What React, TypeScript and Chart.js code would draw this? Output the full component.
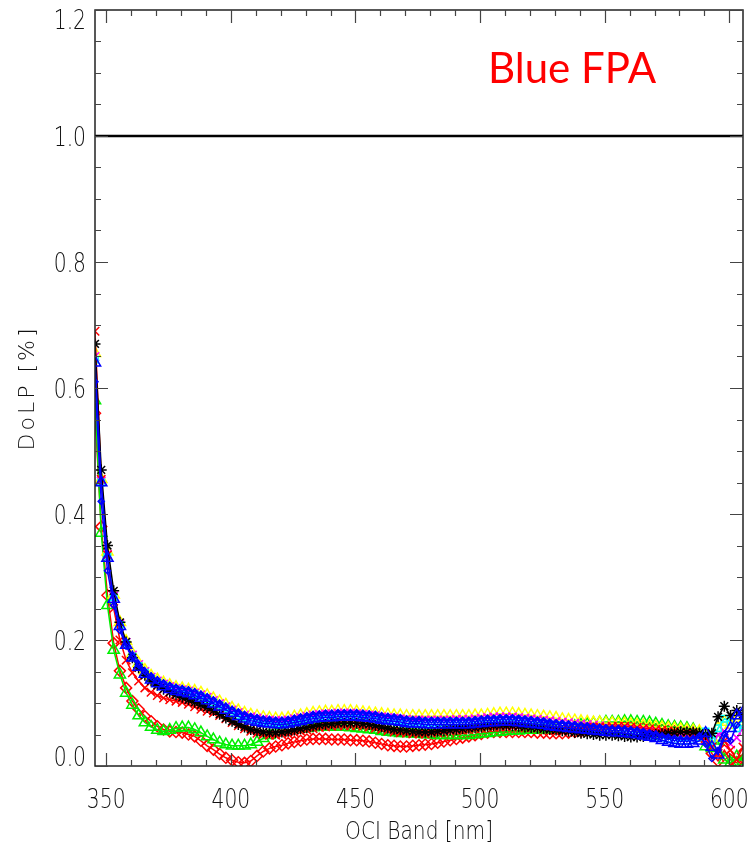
import { useEffect, useRef } from "react";
import { Chart, registerables } from "chart.js";

Chart.register(...registerables);

// OCI band centre wavelengths [nm]
const wavelengths = [
  345.5, 348, 350.5, 353, 355.5, 358, 360.5, 363, 365.5, 368,
  370.5, 373, 375.5, 378, 380.5, 383, 385.5, 388, 390.5, 393,
  395.5, 398, 400.5, 403, 405.5, 408, 410.5, 413, 415.5, 418,
  420.5, 423, 425.5, 428, 430.5, 433, 435.5, 438, 440.5, 443,
  445.5, 448, 450.5, 453, 455.5, 458, 460.5, 463, 465.5, 468,
  470.5, 473, 475.5, 478, 480.5, 483, 485.5, 488, 490.5, 493,
  495.5, 498, 500.5, 503, 505.5, 508, 510.5, 513, 515.5, 518,
  520.5, 523, 525.5, 528, 530.5, 533, 535.5, 538, 540.5, 543,
  545.5, 548, 550.5, 553, 555.5, 558, 560.5, 563, 565.5, 568,
  570.5, 573, 575.5, 578, 580.5, 583, 585.5, 588, 590.5, 593,
  595.5, 598, 600.5, 603, 605.5,
];

const redDiamonds = [
  0.560, 0.380, 0.271, 0.195, 0.151, 0.124, 0.103, 0.090, 0.079, 0.071,
  0.063, 0.058, 0.055, 0.054, 0.053, 0.050, 0.047, 0.040, 0.032, 0.026,
  0.019, 0.013, 0.009, 0.006, 0.005, 0.008, 0.016, 0.023, 0.028, 0.031,
  0.033, 0.036, 0.038, 0.040, 0.042, 0.043, 0.043, 0.043, 0.042, 0.042,
  0.042, 0.041, 0.041, 0.040, 0.039, 0.037, 0.035, 0.033, 0.032, 0.031,
  0.031, 0.032, 0.033, 0.034, 0.035, 0.037, 0.039, 0.041, 0.043, 0.045,
  0.047, 0.049, 0.051, 0.053, 0.054, 0.054, 0.054, 0.054, 0.054, 0.054,
  0.054, 0.053, 0.053, 0.052, 0.052, 0.052, 0.053, 0.054, 0.055, 0.056,
  0.057, 0.058, 0.059, 0.060, 0.061, 0.062, 0.062, 0.061, 0.060, 0.059,
  0.058, 0.057, 0.056, 0.055, 0.054, 0.053, 0.052, 0.051, 0.040, 0.020,
  0.008, 0.025, 0.010, 0.005, 0.020,
];

const greenTriangles = [
  0.580, 0.370, 0.255, 0.184, 0.145, 0.116, 0.097, 0.080, 0.069, 0.062,
  0.057, 0.055, 0.057, 0.060, 0.061, 0.061, 0.058, 0.053, 0.047, 0.042,
  0.037, 0.034, 0.032, 0.032, 0.032, 0.034, 0.038, 0.044, 0.049, 0.053,
  0.055, 0.057, 0.058, 0.059, 0.060, 0.061, 0.062, 0.062, 0.062, 0.062,
  0.062, 0.061, 0.060, 0.059, 0.058, 0.057, 0.055, 0.054, 0.053, 0.052,
  0.052, 0.051, 0.051, 0.050, 0.050, 0.049, 0.049, 0.049, 0.049, 0.049,
  0.049, 0.050, 0.051, 0.052, 0.053, 0.054, 0.055, 0.056, 0.056, 0.057,
  0.057, 0.058, 0.058, 0.059, 0.060, 0.061, 0.062, 0.063, 0.065, 0.066,
  0.068, 0.069, 0.070, 0.070, 0.070, 0.071, 0.071, 0.070, 0.070, 0.069,
  0.067, 0.065, 0.063, 0.062, 0.061, 0.060, 0.058, 0.052, 0.031, 0.028,
  0.040, 0.010, 0.005, 0.015, 0.008,
];

const yellowSeries = [
  0.655, 0.455, 0.340, 0.272, 0.228, 0.198, 0.178, 0.163, 0.152, 0.143,
  0.137, 0.132, 0.128, 0.125, 0.123, 0.121, 0.119, 0.116, 0.112, 0.107,
  0.102, 0.097, 0.092, 0.088, 0.084, 0.081, 0.079, 0.077, 0.076, 0.075,
  0.075, 0.076, 0.078, 0.080, 0.082, 0.084, 0.085, 0.086, 0.086, 0.087,
  0.087, 0.087, 0.086, 0.085, 0.084, 0.083, 0.082, 0.081, 0.080, 0.080,
  0.079, 0.079, 0.079, 0.079, 0.079, 0.079, 0.079, 0.079, 0.079, 0.079,
  0.079, 0.080, 0.080, 0.081, 0.082, 0.083, 0.083, 0.083, 0.082, 0.081,
  0.080, 0.079, 0.078, 0.077, 0.076, 0.074, 0.073, 0.072, 0.071, 0.070,
  0.069, 0.069, 0.068, 0.068, 0.067, 0.067, 0.066, 0.065, 0.064, 0.063,
  0.062, 0.061, 0.060, 0.059, 0.058, 0.057, 0.056, 0.055, 0.050, 0.045,
  0.060, 0.070, 0.065, 0.075, 0.070,
];

const magentaCross = [
  0.650, 0.452, 0.336, 0.270, 0.226, 0.196, 0.176, 0.161, 0.150, 0.141,
  0.135, 0.130, 0.126, 0.123, 0.121, 0.119, 0.116, 0.113, 0.109, 0.104,
  0.099, 0.094, 0.089, 0.085, 0.081, 0.078, 0.076, 0.074, 0.073, 0.072,
  0.072, 0.073, 0.075, 0.077, 0.079, 0.081, 0.082, 0.083, 0.083, 0.084,
  0.084, 0.084, 0.083, 0.082, 0.081, 0.080, 0.078, 0.077, 0.076, 0.075,
  0.074, 0.073, 0.073, 0.073, 0.073, 0.073, 0.073, 0.073, 0.074, 0.074,
  0.074, 0.075, 0.076, 0.077, 0.078, 0.078, 0.078, 0.078, 0.077, 0.076,
  0.075, 0.074, 0.073, 0.072, 0.071, 0.070, 0.069, 0.068, 0.067, 0.066,
  0.065, 0.064, 0.063, 0.062, 0.062, 0.061, 0.060, 0.059, 0.058, 0.057,
  0.055, 0.053, 0.051, 0.049, 0.047, 0.046, 0.046, 0.048, 0.040, 0.030,
  0.050, 0.055, 0.035, 0.045, 0.060,
];

const cyanSquares = [
  0.645, 0.450, 0.333, 0.268, 0.224, 0.194, 0.174, 0.159, 0.148, 0.139,
  0.133, 0.128, 0.124, 0.121, 0.119, 0.117, 0.114, 0.110, 0.106, 0.101,
  0.096, 0.091, 0.086, 0.081, 0.077, 0.074, 0.072, 0.070, 0.069, 0.068,
  0.068, 0.069, 0.071, 0.073, 0.075, 0.077, 0.078, 0.079, 0.079, 0.080,
  0.080, 0.080, 0.080, 0.079, 0.078, 0.077, 0.075, 0.074, 0.073, 0.072,
  0.071, 0.070, 0.070, 0.069, 0.069, 0.069, 0.069, 0.069, 0.069, 0.069,
  0.069, 0.070, 0.071, 0.072, 0.072, 0.073, 0.073, 0.073, 0.072, 0.071,
  0.070, 0.069, 0.068, 0.066, 0.065, 0.064, 0.063, 0.062, 0.061, 0.060,
  0.059, 0.058, 0.057, 0.056, 0.056, 0.055, 0.054, 0.053, 0.051, 0.049,
  0.047, 0.045, 0.043, 0.041, 0.040, 0.040, 0.041, 0.045, 0.055, 0.040,
  0.060, 0.075, 0.070, 0.060, 0.065,
];

const redCross = [
  0.690, 0.455, 0.335, 0.250, 0.200, 0.168, 0.148, 0.135, 0.124, 0.117,
  0.112, 0.108, 0.105, 0.103, 0.101, 0.098, 0.094, 0.090, 0.087, 0.084,
  0.080, 0.075, 0.069, 0.064, 0.059, 0.055, 0.052, 0.050, 0.049, 0.049,
  0.050, 0.051, 0.053, 0.055, 0.057, 0.059, 0.061, 0.062, 0.063, 0.064,
  0.064, 0.064, 0.064, 0.063, 0.062, 0.060, 0.058, 0.056, 0.054, 0.053,
  0.052, 0.051, 0.051, 0.051, 0.052, 0.053, 0.054, 0.055, 0.056, 0.057,
  0.058, 0.059, 0.060, 0.061, 0.061, 0.062, 0.062, 0.062, 0.062, 0.061,
  0.061, 0.060, 0.060, 0.059, 0.059, 0.059, 0.059, 0.060, 0.060, 0.061,
  0.061, 0.062, 0.062, 0.063, 0.063, 0.063, 0.062, 0.061, 0.060, 0.059,
  0.058, 0.057, 0.056, 0.055, 0.054, 0.053, 0.052, 0.050, 0.045, 0.030,
  0.020, 0.040, 0.025, 0.010, 0.030,
];

const blackStars = [
  0.670, 0.470, 0.350, 0.278, 0.228, 0.197, 0.172, 0.156, 0.144, 0.135,
  0.128, 0.122, 0.117, 0.113, 0.109, 0.105, 0.101, 0.097, 0.093, 0.088,
  0.082, 0.076, 0.071, 0.066, 0.062, 0.058, 0.056, 0.054, 0.053, 0.053,
  0.054, 0.055, 0.057, 0.059, 0.061, 0.063, 0.065, 0.066, 0.067, 0.068,
  0.068, 0.068, 0.068, 0.067, 0.066, 0.064, 0.062, 0.060, 0.058, 0.057,
  0.056, 0.055, 0.054, 0.054, 0.054, 0.055, 0.056, 0.057, 0.058, 0.059,
  0.060, 0.061, 0.062, 0.063, 0.064, 0.064, 0.064, 0.064, 0.063, 0.062,
  0.061, 0.060, 0.059, 0.058, 0.057, 0.056, 0.055, 0.053, 0.052, 0.051,
  0.050, 0.049, 0.049, 0.049, 0.048, 0.047, 0.046, 0.046, 0.047, 0.049,
  0.050, 0.051, 0.052, 0.053, 0.054, 0.054, 0.054, 0.052, 0.050, 0.052,
  0.078, 0.095, 0.080, 0.088, 0.082,
];

const blueDiamonds = [
  0.610, 0.420, 0.310, 0.255, 0.215, 0.190, 0.173, 0.160, 0.150, 0.143,
  0.137, 0.132, 0.128, 0.125, 0.123, 0.121, 0.118, 0.114, 0.110, 0.105,
  0.100, 0.095, 0.090, 0.086, 0.082, 0.079, 0.077, 0.075, 0.074, 0.073,
  0.073, 0.074, 0.076, 0.078, 0.080, 0.082, 0.083, 0.084, 0.084, 0.085,
  0.085, 0.085, 0.085, 0.084, 0.083, 0.082, 0.080, 0.079, 0.078, 0.077,
  0.075, 0.074, 0.074, 0.073, 0.073, 0.073, 0.073, 0.073, 0.073, 0.073,
  0.073, 0.074, 0.075, 0.076, 0.076, 0.077, 0.077, 0.077, 0.076, 0.075,
  0.074, 0.073, 0.072, 0.070, 0.069, 0.068, 0.067, 0.066, 0.065, 0.064,
  0.063, 0.062, 0.061, 0.060, 0.060, 0.059, 0.058, 0.057, 0.055, 0.053,
  0.051, 0.048, 0.046, 0.044, 0.043, 0.043, 0.044, 0.048, 0.035, 0.012,
  0.025, 0.050, 0.040, 0.065, 0.075,
];

const blueTriangles = [
  0.640, 0.450, 0.330, 0.265, 0.222, 0.192, 0.172, 0.157, 0.146, 0.137,
  0.131, 0.126, 0.122, 0.119, 0.117, 0.115, 0.112, 0.108, 0.104, 0.099,
  0.094, 0.089, 0.084, 0.079, 0.075, 0.072, 0.070, 0.068, 0.067, 0.066,
  0.066, 0.067, 0.069, 0.071, 0.073, 0.075, 0.076, 0.077, 0.077, 0.078,
  0.078, 0.078, 0.078, 0.077, 0.076, 0.075, 0.073, 0.072, 0.071, 0.070,
  0.068, 0.067, 0.067, 0.066, 0.066, 0.066, 0.066, 0.066, 0.066, 0.066,
  0.066, 0.067, 0.068, 0.069, 0.069, 0.070, 0.070, 0.070, 0.069, 0.068,
  0.067, 0.066, 0.065, 0.063, 0.062, 0.061, 0.060, 0.059, 0.058, 0.057,
  0.056, 0.055, 0.054, 0.053, 0.053, 0.052, 0.051, 0.050, 0.048, 0.046,
  0.044, 0.041, 0.038, 0.036, 0.035, 0.035, 0.036, 0.040, 0.052, 0.030,
  0.018, 0.045, 0.060, 0.080, 0.085,
];

// unity reference line
const unityX = [345.5, 605.5];
const unityY = [1.0, 1.0];

const xTickValues = [350, 400, 450, 500, 550, 600];
const yTickValues = [0.0, 0.2, 0.4, 0.6, 0.8, 1.0, 1.2];

const X_MIN = 345.5;
const X_MAX = 605.5;
const Y_MIN = 0;
const Y_MAX = 1.2;

const TICK_FONT = "200 26px 'DejaVu Sans', sans-serif";
const TITLE_FONT = "200 24px 'DejaVu Sans', sans-serif";

function condensedText(ctx: any, text: string, x: number, y: number, sx: number) {
  ctx.save();
  ctx.translate(x, y);
  ctx.scale(sx, 1);
  ctx.fillText(text, 0, 0);
  ctx.restore();
}

const framePlugin = {
  id: "idlFrame",
  afterDraw(chart: any) {
    const { ctx, chartArea: a, scales } = chart;
    const xs = scales.x;
    const ys = scales.y;
    ctx.save();
    // frame
    ctx.strokeStyle = "#222";
    ctx.lineWidth = 1.5;
    ctx.strokeRect(a.left, a.top, a.right - a.left, a.bottom - a.top);
    // inward ticks on all sides
    ctx.strokeStyle = "#444";
    ctx.lineWidth = 1.2;
    ctx.beginPath();
    for (let v = 350; v <= 600; v += 10) {
      const px = Math.round(xs.getPixelForValue(v)) + 0.5;
      const len = v % 50 === 0 ? 13 : 6;
      ctx.moveTo(px, a.bottom);
      ctx.lineTo(px, a.bottom - len);
      ctx.moveTo(px, a.top);
      ctx.lineTo(px, a.top + len);
    }
    for (let k = 0; k <= 24; k++) {
      const py = Math.round(ys.getPixelForValue(k * 0.05)) + 0.5;
      const len = k % 4 === 0 ? 13 : 6;
      ctx.moveTo(a.left, py);
      ctx.lineTo(a.left + len, py);
      ctx.moveTo(a.right, py);
      ctx.lineTo(a.right - len, py);
    }
    ctx.stroke();

    // tick labels
    ctx.fillStyle = "#111";
    ctx.font = TICK_FONT;
    ctx.textBaseline = "alphabetic";
    ctx.textAlign = "center";
    xTickValues.forEach((v) => {
      condensedText(ctx, String(v), xs.getPixelForValue(v), a.bottom + 42, 0.78);
    });
    ctx.textAlign = "right";
    yTickValues.forEach((v) => {
      const py = ys.getPixelForValue(v);
      const cy = Math.min(Math.max(py + 1, a.top + 10), a.bottom - 9);
      condensedText(ctx, v.toFixed(1), a.left - 9, cy + 9, 0.78);
    });

    // axis titles
    ctx.fillStyle = "#111";
    ctx.font = TITLE_FONT;
    ctx.textAlign = "center";
    ctx.textBaseline = "alphabetic";
    condensedText(ctx, "OCI Band [nm]", (a.left + a.right) / 2, a.bottom + 73, 0.84);
    ctx.save();
    ctx.font = "200 22px 'DejaVu Sans', sans-serif";
    (ctx as any).letterSpacing = "3px";
    ctx.translate(34, (a.top + a.bottom) / 2);
    ctx.rotate(-Math.PI / 2);
    ctx.fillText("DoLP [%]", 0, 0);
    ctx.restore();

    // annotation
    ctx.fillStyle = "#ff0000";
    ctx.font = "42px Lato, 'Open Sans', sans-serif";
    ctx.textAlign = "left";
    ctx.textBaseline = "alphabetic";
    ctx.fillText("Blue FPA", a.left + 393, a.top + 73);
    ctx.restore();
  },
};

type SeriesDef = {
  label: string;
  values: number[];
  color: string;
  style: string;
  radius: number;
};

const seriesDefs: SeriesDef[] = [
  { label: "red diamonds", values: redDiamonds, color: "#ff0000", style: "rectRot", radius: 5.5 },
  { label: "green triangles", values: greenTriangles, color: "#00ee00", style: "triangle", radius: 6.5 },
  { label: "yellow", values: yellowSeries, color: "#ffff00", style: "triangle", radius: 6.5 },
  { label: "magenta", values: magentaCross, color: "#ff00ff", style: "crossRot", radius: 6 },
  { label: "cyan", values: cyanSquares, color: "#00ffff", style: "rect", radius: 4.5 },
  { label: "red cross", values: redCross, color: "#ff0000", style: "crossRot", radius: 6 },
  { label: "black", values: blackStars, color: "#000000", style: "star", radius: 5.5 },
  { label: "blue diamonds", values: blueDiamonds, color: "#0000ff", style: "rectRot", radius: 3 },
  { label: "blue triangles", values: blueTriangles, color: "#0000ff", style: "triangle", radius: 6.5 },
];

export default function App() {
  const canvasRef = useRef<HTMLCanvasElement | null>(null);

  useEffect(() => {
    if (!canvasRef.current) return;
    const n = seriesDefs.length;
    const datasets: any[] = seriesDefs.map((s, idx) => ({
      label: s.label,
      data: wavelengths.map((w, i) => ({ x: w, y: s.values[i] })),
      borderColor: s.color,
      backgroundColor: "transparent",
      pointBorderColor: s.color,
      pointBackgroundColor: "transparent",
      pointStyle: s.style,
      pointRadius: s.radius,
      pointBorderWidth: 1.5,
      borderWidth: 1.5,
      tension: 0,
      clip: 0,
      order: n - idx + 1,
    }));
    datasets.push({
      label: "unity",
      data: unityX.map((x, i) => ({ x, y: unityY[i] })),
      borderColor: "#000000",
      borderWidth: 2.5,
      pointRadius: 0,
      tension: 0,
      clip: 0,
      order: 0,
    });

    const chart = new Chart(canvasRef.current, {
      type: "line",
      data: { datasets },
      options: {
        responsive: false,
        animation: false,
        devicePixelRatio: 1,
        layout: { padding: { left: 0, right: 7, top: 10, bottom: 0 } },
        plugins: {
          legend: { display: false },
          tooltip: { enabled: false },
          title: { display: false },
        },
        scales: {
          x: {
            type: "linear",
            min: X_MIN,
            max: X_MAX,
            grid: { display: false, drawTicks: false },
            border: { display: false },
            ticks: { display: false },
            afterBuildTicks: (s: any) => {
              s.ticks = xTickValues.map((v) => ({ value: v }));
            },
            afterFit: (s: any) => {
              s.height = 84;
            },
          },
          y: {
            type: "linear",
            min: Y_MIN,
            max: Y_MAX,
            grid: { display: false, drawTicks: false },
            border: { display: false },
            ticks: { display: false },
            afterBuildTicks: (s: any) => {
              s.ticks = yTickValues.map((v) => ({ value: v }));
            },
            afterFit: (s: any) => {
              s.width = 95;
            },
          },
        },
      } as any,
      plugins: [framePlugin],
    });
    return () => chart.destroy();
  }, []);

  return (
    <div style={{ position: "absolute", left: 0, top: 0, width: 751, height: 850, background: "#fff" }}>
      <canvas ref={canvasRef} width={751} height={850} style={{ display: "block" }} />
    </div>
  );
}
